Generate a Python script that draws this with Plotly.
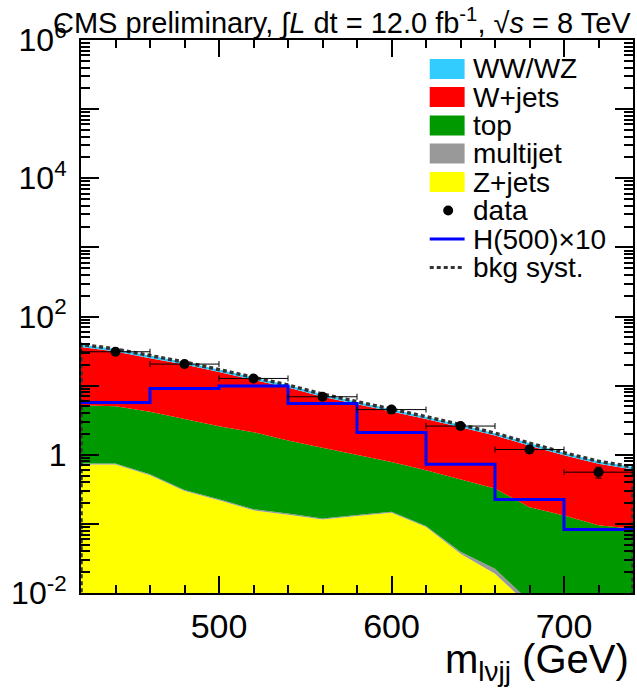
import numpy as np
import plotly.graph_objects as go

# mass points of the background templates (GeV)
m_points = [420, 440, 460, 480, 500, 520, 540, 560, 580, 600, 620, 640, 660, 680, 700, 720, 740]

zjets = [0.721, 0.721, 0.505, 0.299, 0.219, 0.157, 0.136, 0.116, 0.130, 0.145, 0.090, 0.037, 0.019, 0.0065, 0.001, 0.001, 0.001]
multijet = [0.025, 0.025, 0.018, 0.011, 0.008, 0.006, 0.005, 0.004, 0.0045, 0.005, 0.0035, 0.0025, 0.0034, 0.0011, 0.0005, 0.0003, 0.0002]
top = [4.46, 4.29, 3.65, 2.96, 2.36, 1.96, 1.46, 1.14, 0.866, 0.637, 0.503, 0.395, 0.302, 0.167, 0.131, 0.094, 0.084]
wjets = [31.1, 26.1, 20.8, 16.9, 13.1, 10.1, 7.78, 5.67, 4.39, 3.51, 2.68, 2.07, 1.57, 1.18, 0.85, 0.646, 0.527]
wwwz = [3.2, 2.7, 2.2, 1.75, 1.37, 1.06, 0.82, 0.60, 0.47, 0.37, 0.28, 0.22, 0.16, 0.12, 0.086, 0.064, 0.053]

# data, 40 GeV bins
bin_edges = [420, 460, 500, 540, 580, 620, 660, 700, 740]
data_x = [440, 480, 520, 560, 600, 640, 680, 720]
data_y = [30.9, 20.5, 12.7, 6.9, 4.5, 2.6, 1.19, 0.56]
data_err = [1.0, 0.8, 0.6, 0.45, 0.35, 0.25, 0.15, 0.1]

# signal H(500) x 10
higgs = [5.71, 9.10, 9.84, 5.52, 2.10, 0.728, 0.226, 0.083]

y_floor = 1e-3

legend_labels = ["WW/WZ", "W+jets", "top", "multijet", "Z+jets", "data", "H(500)×10", "bkg syst."]

colors = {
    'wwwz': '#33ccff',
    'wjets': '#ff0000',
    'top': '#009900',
    'multijet': '#999999',
    'zjets': '#ffff00',
}

FONT = "Liberation Sans, Arial, Helvetica, sans-serif"

fig = go.Figure()

stack = [('zjets', zjets), ('multijet', multijet), ('top', top), ('wjets', wjets), ('wwwz', wwwz)]
for key, vals in stack:
    fig.add_trace(go.Scatter(
        x=m_points, y=vals, stackgroup='bkg', mode='lines',
        line=dict(width=0, color=colors[key]), fillcolor=colors[key],
        showlegend=False, hoverinfo='skip'
    ))

total = np.sum([zjets, multijet, top, wjets, wwwz], axis=0)

# bkg syst outline, closed down to the axis at both ends
fig.add_trace(go.Scatter(
    x=[m_points[0]] + m_points + [m_points[-1]],
    y=[y_floor] + list(total) + [y_floor],
    mode='lines', line=dict(color='#333333', width=3.5, dash='4px,3px'),
    showlegend=False, hoverinfo='skip'
))

fig.add_trace(go.Scatter(
    x=bin_edges, y=higgs + [higgs[-1]], mode='lines', line_shape='hv',
    line=dict(color='#0000ff', width=3), showlegend=False
))

fig.add_trace(go.Scatter(
    x=data_x, y=data_y, mode='markers',
    marker=dict(color='black', size=10),
    error_x=dict(type='constant', value=20, color='black', thickness=1, width=3),
    error_y=dict(type='data', array=data_err, color='black', thickness=1, width=3),
    showlegend=False
))

# plot frame in pixels
L, R, T, B = 81, 635, 40, 593
W_px, H_px = R - L, B - T


def px(xp):
    return (xp - L) / W_px


def py(yp):
    return (B - yp) / H_px


# hand-made ROOT style legend
shapes = []
annotations = []
row_y = [69, 97, 125.5, 153.5, 182, 210.5, 239, 267.5]
for i, label in enumerate(legend_labels):
    yc = row_y[i]
    if i < 5:
        key = ['wwwz', 'wjets', 'top', 'multijet', 'zjets'][i]
        shapes.append(dict(type='rect', xref='paper', yref='paper',
                           x0=px(431), x1=px(466), y0=py(yc + 10), y1=py(yc - 10),
                           fillcolor=colors[key], line=dict(width=0)))
    elif i == 5:
        shapes.append(dict(type='circle', xref='paper', yref='paper',
                           x0=px(444.5), x1=px(454.5), y0=py(yc + 5), y1=py(yc - 5),
                           fillcolor='black', line=dict(width=0)))
    elif i == 6:
        shapes.append(dict(type='line', xref='paper', yref='paper',
                           x0=px(431), x1=px(466), y0=py(yc), y1=py(yc),
                           line=dict(color='#0000ff', width=3)))
    else:
        shapes.append(dict(type='line', xref='paper', yref='paper',
                           x0=px(431), x1=px(466), y0=py(yc), y1=py(yc),
                           line=dict(color='#333333', width=3, dash='4px,3px')))
    annotations.append(dict(text=label, xref='paper', yref='paper', x=px(472), y=py(yc),
                            xanchor='left', yanchor='middle', showarrow=False,
                            font=dict(size=28, color='black', family=FONT)))

annotations.append(dict(
    text="CMS preliminary, ∫<i>L</i> dt = 12.0 fb<sup>-1</sup>, √<i>s</i> = 8 TeV",
    xref='paper', yref='paper', x=px(342.5), y=py(21), xanchor='center', yanchor='middle',
    showarrow=False, font=dict(size=29, color='black', family=FONT)))

annotations.append(dict(
    text="m<sub>lνjj</sub> (GeV)",
    xref='paper', yref='paper', x=px(633), y=py(662), xanchor='right', yanchor='middle',
    showarrow=False, font=dict(size=40, color='black', family=FONT)))

decades = [10.0 ** k for k in range(-2, 7)]
dec_text = ['10<sup>-2</sup>', '', '1', '', '10<sup>2</sup>', '', '10<sup>4</sup>', '', '10<sup>6</sup>']
minor_y = [m * d for d in decades[:-1] for m in range(2, 10)]

fig.update_xaxes(
    range=[420, 740], showgrid=False, zeroline=False,
    showline=True, linecolor='black', linewidth=2, mirror='allticks',
    ticks='inside', ticklen=17, tickwidth=2, tickcolor='black',
    tickvals=[500, 600, 700], ticklabelstandoff=2,
    tickfont=dict(size=34, color='black', family=FONT),
    minor=dict(ticks='inside', ticklen=8, tickwidth=1.5, tickcolor='black', dtick=20, tick0=420, showgrid=False)
)
fig.update_yaxes(
    type='log', range=[-2, 6], showgrid=False, zeroline=False,
    showline=True, linecolor='black', linewidth=2, mirror='allticks',
    ticks='inside', ticklen=18, tickwidth=2, tickcolor='black',
    tickvals=decades, ticktext=dec_text, ticklabelstandoff=6,
    tickfont=dict(size=32, color='black', family=FONT),
    minor=dict(ticks='inside', ticklen=9, tickwidth=1.5, tickcolor='black', tickvals=minor_y, showgrid=False)
)

fig.update_layout(
    width=637, height=688,
    margin=dict(l=L, r=637 - R, t=T, b=688 - B),
    paper_bgcolor='white', plot_bgcolor='white',
    shapes=shapes, annotations=annotations,
    showlegend=False,
    font=dict(family=FONT, color='black')
)

fig.write_html("out.html", config={'displayModeBar': False},
               post_script="document.body.style.margin='0px'; document.documentElement.style.overflow='hidden';")
